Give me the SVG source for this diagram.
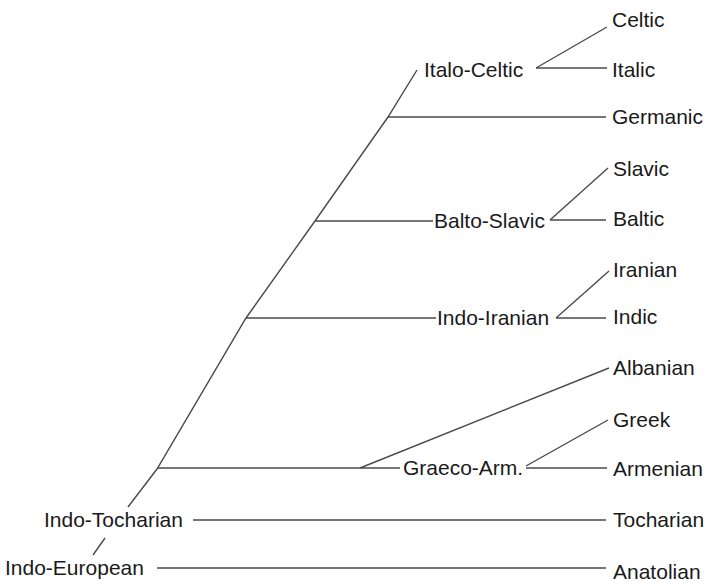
<svg xmlns="http://www.w3.org/2000/svg" width="712" height="584" viewBox="0 0 712 584">
<style>
.l{stroke:#4a4a4a;stroke-width:1.4;fill:none}
text{font-family:"Liberation Sans",Arial,sans-serif;font-size:21px;fill:#1a1a1a}
</style>
<rect width="712" height="584" fill="#fff"/>
<g id="connectors">
<polyline class="l" points="128,507 157,469 246,318 315,221 388,117 417,70"/>
<line class="l" x1="93" y1="555" x2="105" y2="538"/>
<line class="l" x1="157" y1="468" x2="400" y2="468"/>
<line class="l" x1="360" y1="468" x2="609" y2="368"/>
<line class="l" x1="526" y1="466" x2="608" y2="420"/>
<line class="l" x1="526" y1="468" x2="607" y2="468"/>
<line class="l" x1="193" y1="520" x2="606" y2="520"/>
<line class="l" x1="157" y1="568" x2="606" y2="568"/>
<line class="l" x1="536" y1="68" x2="607" y2="27"/>
<line class="l" x1="536" y1="68" x2="607" y2="68"/>
<line class="l" x1="388" y1="117" x2="606" y2="117"/>
<line class="l" x1="315" y1="221" x2="433" y2="221"/>
<line class="l" x1="550" y1="220" x2="608" y2="168"/>
<line class="l" x1="550" y1="220" x2="606" y2="220"/>
<line class="l" x1="246" y1="318" x2="436" y2="318"/>
<line class="l" x1="556" y1="318" x2="609" y2="271"/>
<line class="l" x1="556" y1="318" x2="606" y2="318"/>
</g>
<g id="italo-celtic"><text x="424" y="77">Italo-Celtic</text></g>
<g id="celtic"><text x="612" y="27">Celtic</text></g>
<g id="italic"><text x="612" y="77">Italic</text></g>
<g id="germanic"><text x="612" y="124">Germanic</text></g>
<g id="balto-slavic"><text x="434" y="228">Balto-Slavic</text></g>
<g id="slavic"><text x="613" y="176">Slavic</text></g>
<g id="baltic"><text x="613" y="226">Baltic</text></g>
<g id="indo-iranian"><text x="437" y="325">Indo-Iranian</text></g>
<g id="iranian"><text x="613" y="277">Iranian</text></g>
<g id="indic"><text x="613" y="324">Indic</text></g>
<g id="albanian"><text x="613" y="375">Albanian</text></g>
<g id="graeco-arm"><text x="403" y="475">Graeco-Arm.</text></g>
<g id="greek"><text x="613" y="427">Greek</text></g>
<g id="armenian"><text x="613" y="476">Armenian</text></g>
<g id="indo-tocharian"><text x="44" y="527">Indo-Tocharian</text></g>
<g id="tocharian"><text x="613" y="527">Tocharian</text></g>
<g id="indo-european"><text x="5" y="575">Indo-European</text></g>
<g id="anatolian"><text x="613" y="579">Anatolian</text></g>
</svg>
